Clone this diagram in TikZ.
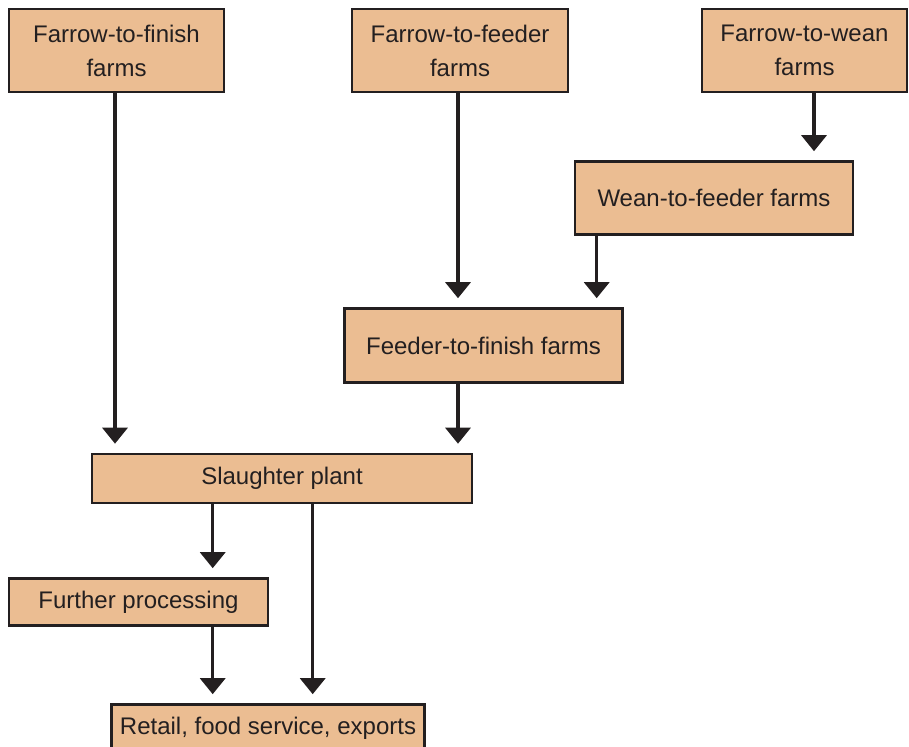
\documentclass[tikz,border=0pt]{standalone}
\usepackage{fontspec}
\setmainfont{Liberation Sans}
\usetikzlibrary{arrows.meta}
\definecolor{boxfill}{HTML}{EBBD92}
\definecolor{ink}{HTML}{231F20}
\tikzset{
  box/.style={draw=ink, fill=boxfill, line width=2.6pt, inner sep=0pt, align=center,
    text=ink, font=\fontsize{24}{34}\selectfont},
  arr/.style={draw=ink, line width=3.3pt, -{Triangle[width=25pt,length=16pt]}, shorten >=9pt}
}
\begin{document}
\begin{tikzpicture}[x=1pt,y=1pt]
\useasboundingbox (0,0) rectangle (909,-746);
\node[box, minimum width=215pt, minimum height=83pt] (A) at (116.5,-50.5) {Farrow-to-finish\\farms};
\node[box, minimum width=216pt, minimum height=83pt] (B) at (460,-50.5) {Farrow-to-feeder\\farms};
\node[box, minimum width=205pt, minimum height=83pt] (C) at (804.5,-50.5) {Farrow-to-wean\\farms};
\node[box, minimum width=278pt, minimum height=73pt] (D) at (714,-198) {Wean-to-feeder farms};
\node[box, minimum width=278pt, minimum height=74pt] (E) at (483.5,-345.5) {Feeder-to-finish farms};
\node[box, minimum width=380pt, minimum height=49pt] (F) at (282,-478.5) {Slaughter plant};
\node[box, minimum width=259pt, minimum height=47pt] (G) at (138.5,-602) {Further processing};
\node[box, minimum width=313pt, minimum height=48pt] (H) at (268,-728.5) {Retail, food service, exports};

\draw[arr] ([xshift=-1.5pt]A.south) -- ([xshift=-1.5pt]A.south |- F.north);
\draw[arr] ([xshift=-2pt]B.south) -- ([xshift=-2pt]B.south |- E.north);
\draw[arr] ([xshift=9.5pt]C.south) -- ([xshift=9.5pt]C.south |- D.north);
\draw[arr] ([xshift=23pt]D.south west) -- ([xshift=23pt]D.south west |- E.north);
\draw[arr] ([xshift=-25.5pt]E.south) -- ([xshift=-25.5pt]E.south |- F.north);
\draw[arr] ([xshift=122pt]F.south west) -- ([xshift=122pt]F.south west |- G.north);
\draw[arr] ([xshift=222pt]F.south west) -- ([xshift=222pt]F.south west |- H.north);
\draw[arr] ([xshift=205pt]G.south west) -- ([xshift=205pt]G.south west |- H.north);
\end{tikzpicture}
\end{document}
